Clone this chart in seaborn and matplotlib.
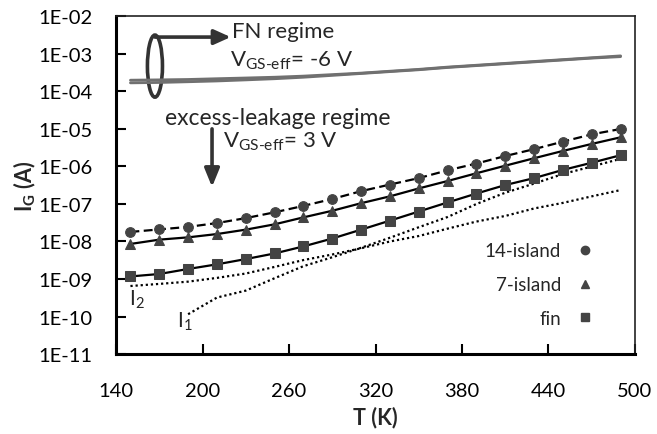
import numpy as np
import pandas as pd
import seaborn as sns
import matplotlib.pyplot as plt
from matplotlib.patches import Ellipse
from matplotlib.lines import Line2D
from matplotlib.ticker import FixedLocator, FuncFormatter

# temperatures (K)
temps = [150, 170, 190, 210, 230, 250, 270, 290, 310, 330, 350, 370, 390, 410, 430, 450, 470, 490]

# gate current (A) for the three devices, excess-leakage regime
ig_14island = [1.8e-8, 2.1e-8, 2.45e-8, 3.1e-8, 4.2e-8, 6.0e-8, 8.9e-8, 1.36e-7, 2.2e-7,
               3.3e-7, 4.9e-7, 7.9e-7, 1.2e-6, 1.9e-6, 2.9e-6, 4.6e-6, 7.2e-6, 1.0e-5]
ig_7island = [8.6e-9, 1.12e-8, 1.29e-8, 1.58e-8, 2.07e-8, 2.87e-8, 4.4e-8, 6.6e-8, 1.05e-7,
              1.6e-7, 2.6e-7, 4.1e-7, 6.6e-7, 1.05e-6, 1.66e-6, 2.6e-6, 4.0e-6, 6.0e-6]
ig_fin = [1.17e-9, 1.36e-9, 1.85e-9, 2.46e-9, 3.4e-9, 4.8e-9, 7.4e-9, 1.2e-8, 2.07e-8,
          3.6e-8, 6.3e-8, 1.1e-7, 1.9e-7, 3.2e-7, 4.9e-7, 8.1e-7, 1.26e-6, 2.0e-6]

# fitted components
temps_i1 = [190, 210, 230, 250, 270, 290, 310, 330, 350, 370, 390, 410, 430, 450, 470, 490]
i1 = [1.15e-10, 3.2e-10, 4.9e-10, 1.05e-9, 2.2e-9, 3.8e-9, 6.8e-9, 1.26e-8, 2.4e-8, 4.5e-8,
      1.0e-7, 2.0e-7, 3.5e-7, 6.3e-7, 1.0e-6, 1.6e-6]
i2 = [6.5e-10, 7.4e-10, 8.5e-10, 1.07e-9, 1.4e-9, 2.1e-9, 3.2e-9, 4.5e-9, 6.6e-9,
      1.0e-8, 1.4e-8, 2.2e-8, 3.4e-8, 4.8e-8, 7.6e-8, 1.07e-7, 1.6e-7, 2.35e-7]

# FN regime (two overlapping curves)
fn_a = [2.0e-4, 2.04e-4, 2.09e-4, 2.19e-4, 2.29e-4, 2.4e-4, 2.57e-4, 2.82e-4, 3.09e-4,
        3.47e-4, 3.89e-4, 4.47e-4, 5.01e-4, 5.62e-4, 6.31e-4, 7.08e-4, 7.94e-4, 8.9e-4]
fn_b = [1.7e-4, 1.74e-4, 1.82e-4, 1.91e-4, 2.04e-4, 2.19e-4, 2.4e-4, 2.69e-4, 3.02e-4,
        3.39e-4, 3.8e-4, 4.37e-4, 4.9e-4, 5.5e-4, 6.17e-4, 6.92e-4, 7.76e-4, 8.5e-4]

x_ticks = [140, 200, 260, 320, 380, 440, 500]
y_ticks = [1e-11, 1e-10, 1e-9, 1e-8, 1e-7, 1e-6, 1e-5, 1e-4, 1e-3, 1e-2]

sns.set_style("ticks")
plt.rcParams['font.family'] = ['Lato', 'DejaVu Sans']
plt.rcParams['mathtext.fontset'] = 'custom'
plt.rcParams['mathtext.rm'] = 'Lato'
plt.rcParams['mathtext.bf'] = 'Lato:bold'

fig = plt.figure(figsize=(6.57, 4.35), dpi=100)
ax = fig.add_axes([0.1766, 0.1839, 0.7899, 0.7759])

mk = '#444444'
for vals in (fn_a, fn_b):
    sns.lineplot(x=temps, y=vals, ax=ax, color='#707070', lw=2.0)
sns.lineplot(x=temps_i1, y=i1, ax=ax, color='black', lw=1.6, linestyle=(0, (1, 1.3)))
sns.lineplot(x=temps, y=i2, ax=ax, color='black', lw=1.6, linestyle=(0, (1, 1.3)))
sns.lineplot(x=temps, y=ig_fin, ax=ax, color='black', lw=1.6, marker='s', ms=7,
             mfc=mk, mec=mk)
sns.lineplot(x=temps, y=ig_7island, ax=ax, color='black', lw=1.6, marker='^', ms=7,
             mfc=mk, mec=mk)
sns.lineplot(x=temps, y=ig_14island, ax=ax, color='black', lw=1.6, marker='o', ms=7,
             mfc=mk, mec=mk, linestyle=(0, (4, 2)))

ax.set_yscale('log')
ax.set_xlim(140, 500)
ax.set_ylim(1e-11, 1e-2)
ax.xaxis.set_major_locator(FixedLocator(x_ticks))
ax.yaxis.set_major_locator(FixedLocator(y_ticks))
ax.yaxis.set_minor_locator(FixedLocator([]))
ax.yaxis.set_major_formatter(FuncFormatter(lambda v, p: "1E-%02d" % round(-np.log10(v))))
ax.tick_params(direction='in', length=7, width=1.5, labelsize=14.5, colors='black')
ax.tick_params(axis='y', pad=17)
ax.tick_params(axis='x', pad=20)
for side in ('left', 'bottom'):
    ax.spines[side].set_linewidth(2.2)
    ax.spines[side].set_color('black')
for side in ('top', 'right'):
    ax.spines[side].set_visible(True)
    ax.spines[side].set_linewidth(1.2)
    ax.spines[side].set_color('#222222')

ax.set_xlabel("T (K)", fontsize=15.5, fontweight='bold', labelpad=5)
ax.set_ylabel(r"I$_{\mathbf{G}}$ (A)", fontsize=15.5, fontweight='bold', labelpad=0)

# annotations
ax.add_patch(Ellipse((0.075, 0.853), 0.029, 0.184, transform=ax.transAxes, fill=False,
                     lw=2.6, ec='#333333'))
ax.annotate("", xy=(0.221, 0.939), xytext=(0.075, 0.939), xycoords='axes fraction',
            arrowprops=dict(arrowstyle='-|>,head_length=1.0,head_width=0.45', lw=2.6,
                            color='#333333', shrinkA=0, shrinkB=0))
ax.text(0.223, 0.957, "FN regime", transform=ax.transAxes, fontsize=16, va='center')
ax.text(0.219, 0.872, r"V$_{\text{GS-eff}}$= -6 V", transform=ax.transAxes, fontsize=16,
        va='center')
ax.text(0.095, 0.702, "excess-leakage regime", transform=ax.transAxes, fontsize=16.5,
        va='center')
ax.text(0.206, 0.632, r"V$_{\text{GS-eff}}$= 3 V", transform=ax.transAxes, fontsize=16,
        va='center')
ax.annotate("", xy=(0.185, 0.495), xytext=(0.185, 0.667), xycoords='axes fraction',
            arrowprops=dict(arrowstyle='-|>,head_length=1.1,head_width=0.45', lw=2.6,
                            color='#333333', shrinkA=0, shrinkB=0))
ax.text(0.025, 0.165, r"I$_2$", transform=ax.transAxes, fontsize=15, va='center')
ax.text(0.118, 0.1, r"I$_1$", transform=ax.transAxes, fontsize=15, va='center')

handles = [Line2D([], [], ls='none', marker=m, ms=6, mfc=mk, mec=mk) for m in ('o', '^', 's')]
ax.legend(handles, ["14-island", "7-island", "fin"], markerfirst=False, frameon=False,
          loc='lower right', bbox_to_anchor=(0.955, 0.03), fontsize=13.5, labelspacing=0.9,
          handlelength=1.0, handletextpad=0.8)

fig.savefig("out.png", dpi=100)
